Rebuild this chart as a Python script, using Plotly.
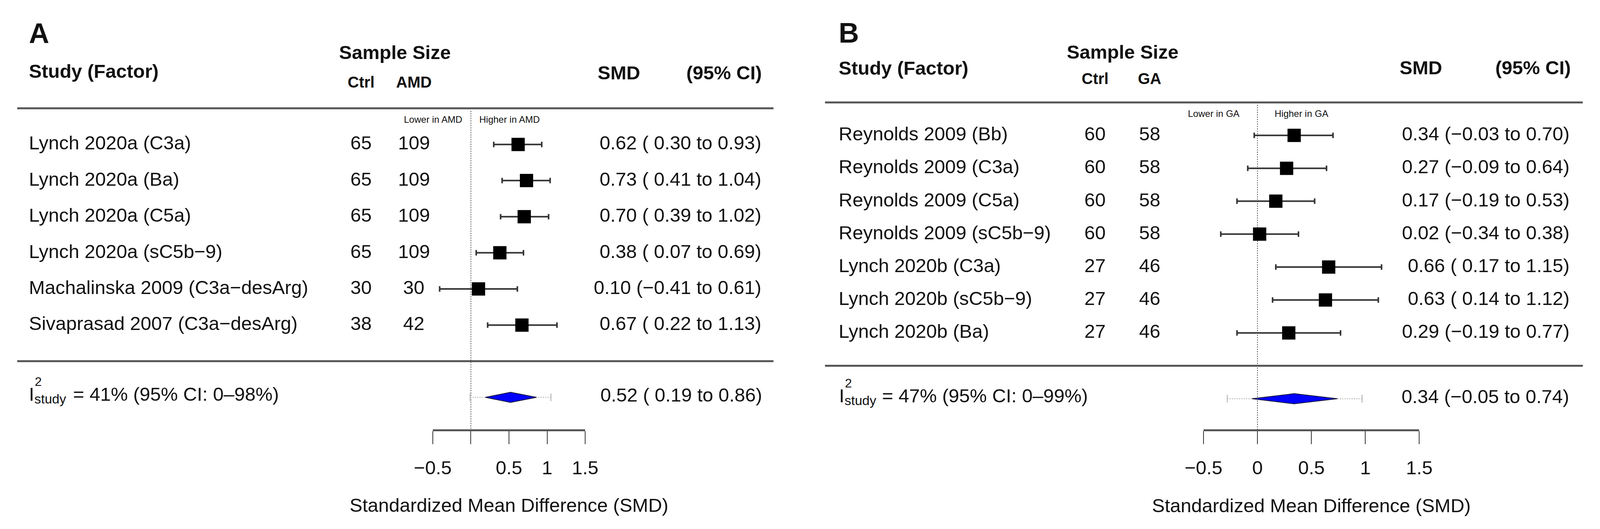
import plotly.graph_objects as go

W, H = 4299, 1353          # reference canvas (pixels); positions below are fractions of it
Y0 = 8                     # page body margin
FONT = "Liberation Sans, Arial, Helvetica, sans-serif"
TXT = "#111111"
FS, FS_SUB, FS_SMALL, FS_LETTER = 49, 40, 24, 72

# ---------------- Panel A data ----------------
studies_a = ["Lynch 2020a (C3a)", "Lynch 2020a (Ba)", "Lynch 2020a (C5a)",
             "Lynch 2020a (sC5b\u22129)", "Machalinska 2009 (C3a\u2212desArg)",
             "Sivaprasad 2007 (C3a\u2212desArg)"]
ctrl_a = [65, 65, 65, 65, 30, 38]
case_a = [109, 109, 109, 109, 30, 42]
smd_a = [0.62, 0.73, 0.70, 0.38, 0.10, 0.67]
lo_a = [0.30, 0.41, 0.39, 0.07, -0.41, 0.22]
hi_a = [0.93, 1.04, 1.02, 0.69, 0.61, 1.13]
pooled_a = [0.52, 0.19, 0.86]
pred_a = [-0.01, 1.05]
i2_a = "= 41% (95% CI: 0\u201398%)"

# ---------------- Panel B data ----------------
studies_b = ["Reynolds 2009 (Bb)", "Reynolds 2009 (C3a)", "Reynolds 2009 (C5a)",
             "Reynolds 2009 (sC5b\u22129)", "Lynch 2020b (C3a)", "Lynch 2020b (sC5b\u22129)",
             "Lynch 2020b (Ba)"]
ctrl_b = [60, 60, 60, 60, 27, 27, 27]
case_b = [58, 58, 58, 58, 46, 46, 46]
smd_b = [0.34, 0.27, 0.17, 0.02, 0.66, 0.63, 0.29]
lo_b = [-0.03, -0.09, -0.19, -0.34, 0.17, 0.14, -0.19]
hi_b = [0.70, 0.64, 0.53, 0.38, 1.15, 1.12, 0.77]
pooled_b = [0.34, -0.05, 0.74]
pred_b = [-0.28, 0.97]
i2_b = "= 47% (95% CI: 0\u201399%)"

tick_vals = [-0.5, 0, 0.5, 1, 1.5]
tick_text_a = ["\u22120.5", "", "0.5", "1", "1.5"]
tick_text_b = ["\u22120.5", "0", "0.5", "1", "1.5"]
axis_title = "Standardized Mean Difference (SMD)"


def fnum(v):
    s = f"{abs(v):.2f}"
    return ("\u2212" + s) if v < 0 else s


def ci_text(m, lo, hi):
    lo_s = fnum(lo) if lo < 0 else " " + fnum(lo)
    return f"{fnum(m)} ({lo_s} to {fnum(hi)})"


panels = [
    dict(key="", letter="A", case_label="AMD", studies=studies_a, ctrl=ctrl_a, case=case_a,
         smd=smd_a, lo=lo_a, hi=hi_a, pooled=pooled_a, pred=pred_a, i2=i2_a, ticktext=tick_text_a,
         axis_px=(1159, 1570), axis_y=1100, row0=277, step=92.4,
         name_x=67, ctrl_x=966, case_x=1108, smd_right=2047, sum_right=2049,
         letter_y=85, study_y=182, sample_x=1057, sample_y=134, sub_y=210,
         smdh_x=1661, cih_x=1945, smdh_y=186, line_x=(38, 2078),
         lower_right=1240, higher_left=1282, i_x=67, i2_x=187, title_y=1292),
    dict(key="2", letter="B", case_label="GA", studies=studies_b, ctrl=ctrl_b, case=case_b,
         smd=smd_b, lo=lo_b, hi=hi_b, pooled=pooled_b, pred=pred_b, i2=i2_b, ticktext=tick_text_b,
         axis_px=(3238, 3820), axis_y=1100, row0=262, step=84.2,
         name_x=2252, ctrl_x=2946, case_x=3093, smd_right=4227, sum_right=4226,
         letter_y=84, study_y=174, sample_x=3020, sample_y=133, sub_y=201,
         smdh_x=3824, cih_x=4127, smdh_y=173, line_x=(2217, 4261),
         lower_right=3337, higher_left=3428, i_x=2253, i2_x=2369, title_y=1293),
]

fig = go.Figure()
annotations = []
shapes = []


def px_x(p):
    return p / W


def px_y(p):
    return 1 - (p - Y0) / H


def add_ann(text, x, y, yref="paper", size=FS, bold=False, xanchor="left",
            yanchor="middle", yshift=0, color=TXT):
    annotations.append(dict(
        text=f"<b>{text}</b>" if bold else text, x=x, y=y, xref="paper", yref=yref,
        xanchor=xanchor, yanchor=yanchor, yshift=yshift, showarrow=False,
        font=dict(family=FONT, size=size, color=color)))


layout_axes = {}
for P in panels:
    k = P["key"]
    xname, yname = "x" + k, "y" + k
    n = len(P["studies"])
    rows = list(range(1, n + 1))
    sep_row = n + 1
    sum_row = n + 2
    row0, step = P["row0"] - Y0, P["step"]
    axis_row = (P["axis_y"] - P["row0"]) / step
    y_top = -row0 / step
    y_bot = (H - row0) / step

    # prediction interval (faint dotted)
    fig.add_trace(go.Scatter(x=P["pred"], y=[sum_row] * 2, mode="lines",
                             line=dict(color="#c2c2c2", width=3, dash="dot"),
                             xaxis=xname, yaxis=yname, showlegend=False, hoverinfo="skip"))
    fig.add_trace(go.Scatter(x=P["pred"], y=[sum_row] * 2, mode="markers",
                             marker=dict(symbol="line-ns", size=14,
                                         line=dict(width=3, color="#c2c2c2")),
                             xaxis=xname, yaxis=yname, showlegend=False, hoverinfo="skip"))
    # pooled diamond
    m, l, h = P["pooled"]
    dh = 13 / step
    fig.add_trace(go.Scatter(x=[l, m, h, m, l], y=[sum_row, sum_row - dh, sum_row, sum_row + dh, sum_row],
                             mode="lines", fill="toself", fillcolor="#0000ff",
                             line=dict(color="#14143c", width=2),
                             xaxis=xname, yaxis=yname, showlegend=False, hoverinfo="skip"))
    # study estimates
    fig.add_trace(go.Scatter(
        x=P["smd"], y=rows, mode="markers",
        marker=dict(symbol="square", size=34, color="black", line=dict(width=0)),
        error_x=dict(type="data", symmetric=False,
                     array=[hh - mm for hh, mm in zip(P["hi"], P["smd"])],
                     arrayminus=[mm - ll for mm, ll in zip(P["smd"], P["lo"])],
                     color="#333333", thickness=4, width=7),
        xaxis=xname, yaxis=yname, showlegend=False, hoverinfo="skip"))

    # zero reference line
    shapes.append(dict(type="line", xref=xname, yref=yname, x0=0, x1=0, y0=0.07, y1=axis_row,
                       line=dict(color="#555555", width=2, dash="dot"), layer="below"))
    # header / separator lines
    for r in (0, sep_row):
        shapes.append(dict(type="line", xref="paper", yref=yname,
                           x0=px_x(P["line_x"][0]), x1=px_x(P["line_x"][1]), y0=r, y1=r,
                           line=dict(color="#555555", width=5)))

    # axes
    layout_axes["xaxis" + k] = dict(
        domain=[px_x(P["axis_px"][0]), px_x(P["axis_px"][1])], range=[-0.5, 1.5],
        anchor="free", position=px_y(P["axis_y"]), showline=True, linecolor="#555555",
        linewidth=5, ticks="outside", ticklen=33, tickwidth=2, tickcolor="#333333",
        tickmode="array", tickvals=tick_vals, ticktext=P["ticktext"],
        tickfont=dict(family=FONT, size=FS, color=TXT), ticklabelstandoff=18,
        showgrid=False, zeroline=False, automargin=False, fixedrange=True)
    layout_axes["yaxis" + k] = dict(domain=[0, 1], range=[y_bot, y_top], anchor=xname,
                                    visible=False, showgrid=False, zeroline=False,
                                    automargin=False, fixedrange=True)

    # header texts
    add_ann(P["letter"], px_x(P["name_x"]), px_y(P["letter_y"]), size=FS_LETTER, bold=True)
    add_ann("Study (Factor)", px_x(P["name_x"]), px_y(P["study_y"]), bold=True)
    add_ann("Sample Size", px_x(P["sample_x"]), px_y(P["sample_y"]), bold=True, xanchor="center")
    add_ann("Ctrl", px_x(P["ctrl_x"]), px_y(P["sub_y"]), size=FS_SUB, bold=True, xanchor="center")
    add_ann(P["case_label"], px_x(P["case_x"]), px_y(P["sub_y"]), size=FS_SUB, bold=True, xanchor="center")
    add_ann("SMD", px_x(P["smdh_x"]), px_y(P["smdh_y"]), bold=True, xanchor="center")
    add_ann("(95% CI)", px_x(P["cih_x"]), px_y(P["smdh_y"]), bold=True, xanchor="center")
    add_ann("Lower in " + P["case_label"], px_x(P["lower_right"]), 0, yref=yname, size=FS_SMALL,
            xanchor="right", yshift=-28)
    add_ann("Higher in " + P["case_label"], px_x(P["higher_left"]), 0, yref=yname, size=FS_SMALL,
            xanchor="left", yshift=-28)

    # study rows
    for r, name, c, cs, mm, ll, hh in zip(rows, P["studies"], P["ctrl"], P["case"],
                                          P["smd"], P["lo"], P["hi"]):
        add_ann(name, px_x(P["name_x"]), r, yref=yname, yshift=4)
        add_ann(str(c), px_x(P["ctrl_x"]), r, yref=yname, xanchor="center", yshift=4)
        add_ann(str(cs), px_x(P["case_x"]), r, yref=yname, xanchor="center", yshift=4)
        add_ann(ci_text(mm, ll, hh), px_x(P["smd_right"]), r, yref=yname, xanchor="right", yshift=4)

    # summary row
    add_ann("I", px_x(P["i_x"]), sum_row, yref=yname, yshift=8)
    add_ann("2", px_x(P["i_x"] + 16), sum_row, yref=yname, size=32, yshift=40)
    add_ann("study", px_x(P["i_x"] + 15), sum_row, yref=yname, size=34, yshift=-4)
    add_ann(P["i2"], px_x(P["i2_x"]), sum_row, yref=yname, yshift=8)
    add_ann(ci_text(m, l, h), px_x(P["sum_right"]), sum_row, yref=yname, xanchor="right", yshift=6)

    # axis title
    add_ann(axis_title, (px_x(P["axis_px"][0]) + px_x(P["axis_px"][1])) / 2, px_y(P["title_y"]),
            xanchor="center")

fig.update_layout(
    height=H, autosize=True, margin=dict(l=0, r=0, t=0, b=0),
    paper_bgcolor="white", plot_bgcolor="rgba(0,0,0,0)", template="none",
    font=dict(family=FONT, color=TXT), showlegend=False,
    annotations=annotations, shapes=shapes, **layout_axes)

fig.write_html("out.html")
